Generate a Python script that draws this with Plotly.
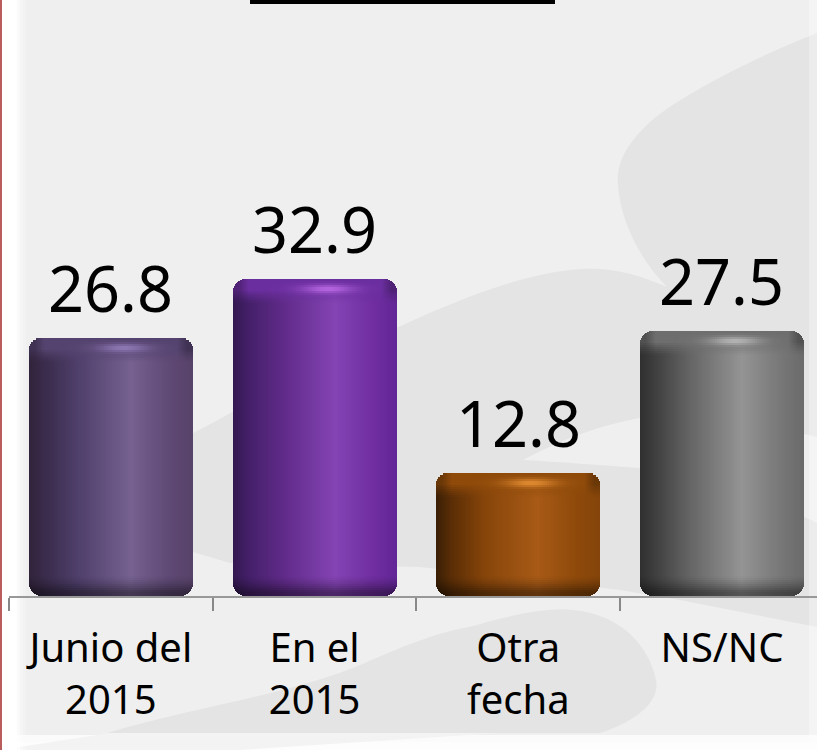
import plotly.graph_objects as go
import numpy as np

categories = ["Junio del<br>2015", "En el<br>2015", "Otra<br>fecha", "NS/NC"]
values = [26.8, 32.9, 12.8, 27.5]
value_labels = ["26.8", "32.9", "12.8", "27.5"]

stop_pos = [0.0, 0.10, 0.30, 0.62, 0.85, 1.0]
bar_stops = [
    ["#30233a", "#3a2c4c", "#4f3f6b", "#766190", "#5f4975", "#574269"],
    ["#331850", "#45206a", "#5f2a88", "#8444b4", "#702ea0", "#622696"],
    ["#3a1f05", "#5c2e06", "#87450a", "#a85a16", "#8f4a0a", "#84440a"],
    ["#2f2f2f", "#404040", "#646464", "#949494", "#787878", "#6a6a6a"],
]
cap_colors = ["#55436f", "#6b2e9f", "#8f4a0a", "#6e6e6e"]
glow_colors = ["#8f78b4", "#b565e0", "#e08a30", "#b4b4b4"]

W, H = 817, 750
ML, MB = 9, 154
BASE_PX = 596
CAT_PX = 203.7
BAR_PX = 164
PX_PER_UNIT = 9.63
RADIUS = 13
BG = "#efefef"
BLOB = "#e4e4e4"


def rgb(h):
    return np.array([int(h[i:i + 2], 16) for i in (1, 3, 5)], float)


def mix(a, b, w):
    return a * (1 - w) + b * w


def css(c):
    c = np.clip(c, 0, 255).round().astype(int)
    return f"rgb({c[0]},{c[1]},{c[2]})"


def column_edges():
    edges = list(range(0, RADIUS)) + list(range(RADIUS, BAR_PX - RADIUS, 2)) + list(range(BAR_PX - RADIUS, BAR_PX + 1))
    return sorted(set(edges))


fig = go.Figure()
for i, (cat, v) in enumerate(zip(categories, values)):
    stops = np.array([rgb(s) for s in bar_stops[i]])
    cap = rgb(cap_colors[i])
    glow = rgb(glow_colors[i])
    bar_h = v * PX_PER_UNIT
    left = round(ML + (i + 0.5) * CAT_PX - BAR_PX / 2)
    xs, ws, bases, ys, cols = [], [], [], [], []
    edges = column_edges()
    for e0, e1 in zip(edges[:-1], edges[1:]):
        cx = (e0 + e1) / 2
        t = cx / BAR_PX
        col = np.array([np.interp(t, stop_pos, stops[:, k]) for k in range(3)])
        d = min(cx, BAR_PX - cx)
        inset = 0.0
        if d < RADIUS:
            inset = RADIUS - np.sqrt(max(RADIUS ** 2 - (RADIUS - d) ** 2, 0))
        inset = round(inset)
        rows = []
        for r in range(inset, 22, 2):
            rows.append((r, r + 2))
        rows.append((22, bar_h - 26))
        top_lim = bar_h - inset
        for r in np.arange(bar_h - 26, top_lim, 2):
            rows.append((r, min(r + 2, top_lim)))
        for r0, r1 in rows:
            if r1 <= r0:
                continue
            mid = (r0 + r1) / 2
            dtop = bar_h - mid
            dbot = mid
            c = col.copy()
            if dtop < 26:
                w = np.clip((25 - dtop) / 14, 0, 1) ** 1.3
                edge_keep = np.clip(d / 16, 0.35, 1)
                c = mix(c, cap * (0.6 + 0.4 * edge_keep), w)
                g = np.exp(-((t - 0.58) / 0.16) ** 2) * np.exp(-((dtop - 10) / 4.5) ** 2)
                c = mix(c, glow, g)
            if dbot < 22:
                w = np.clip((21 - dbot) / 17, 0, 1) ** 1.5
                c = c * (1 - 0.42 * w)
            xs.append(i + (left + cx - ML - CAT_PX / 2 - i * CAT_PX) / CAT_PX)
            ws.append((e1 - e0) / CAT_PX)
            bases.append(r0 / PX_PER_UNIT)
            ys.append((r1 - r0) / PX_PER_UNIT)
            cols.append(css(c))
    fig.add_trace(go.Bar(x=xs, y=ys, base=bases, width=ws, name=cat.replace("<br>", " "),
                         marker=dict(color=cols, line=dict(width=0)), hoverinfo="skip", showlegend=False))


def fx(px):
    return (px - ML) / (W - ML)


def fy(py):
    return (BASE_PX - py) / BASE_PX


def path(points):
    out = []
    for p in points:
        if p[0] in "MLC":
            nums = p[1:]
            coords = [f"{fx(nums[k]):.5f},{fy(nums[k + 1]):.5f}" for k in range(0, len(nums), 2)]
            out.append(p[0] + " " + " ".join(coords))
        else:
            out.append(p[0])
    return " ".join(out)


def shape_path(points, color, opacity=1):
    return dict(type="path", xref="paper", yref="paper", path=path(points), fillcolor=color,
                opacity=opacity, line=dict(width=0), layer="below")


def rect(x0, y0, x1, y1, color, opacity=1):
    return dict(type="rect", xref="paper", yref="paper", x0=fx(x0), x1=fx(x1), y0=fy(y0), y1=fy(y1),
                fillcolor=color, opacity=opacity, line=dict(width=0), layer="below")


shapes = [
    rect(0, 0, W, H, BG),
    shape_path([
        ("M", 817, 33), ("C", 760, 55, 680, 95, 650, 122), ("C", 625, 145, 616, 165, 618, 185),
        ("C", 620, 220, 640, 260, 667, 287),
        ("C", 640, 275, 612, 267, 580, 269), ("C", 500, 275, 400, 325, 300, 375),
        ("C", 260, 395, 220, 420, 193, 433), ("L", 60, 500), ("L", 60, 530), ("L", 193, 552),
        ("L", 230, 563), ("L", 420, 567), ("L", 620, 590), ("L", 680, 600), ("L", 817, 627), ("Z",),
    ], BLOB),
    shape_path([
        ("M", 523, 460), ("C", 560, 440, 600, 425, 640, 418), ("C", 700, 412, 770, 425, 817, 437),
        ("L", 817, 523), ("C", 770, 500, 700, 475, 640, 468), ("C", 600, 465, 560, 462, 523, 460), ("Z",),
    ], BG),
    shape_path([
        ("M", 107, 733), ("C", 200, 705, 290, 695, 365, 663), ("C", 410, 643, 440, 632, 469, 627),
        ("C", 510, 615, 550, 607, 573, 610), ("C", 625, 615, 650, 650, 656, 680),
        ("C", 660, 700, 640, 720, 600, 733), ("Z",),
    ], BLOB),
    rect(0, 735, W, H, "#ffffff", 0.75),
    rect(0, 742, W, H, "#ffffff", 0.6),
    shape_path([("M", 0, 750), ("L", 110, 733), ("L", 500, 733), ("L", 240, 750), ("Z",)], "#f3f3f3"),
    rect(809, 0, W, H, "#ffffff", 0.3),
    rect(2, 0, 17, H, "#ffffff"),
    rect(17, 0, 20, H, "#ffffff", 0.7),
    rect(20, 0, 23, H, "#ffffff", 0.4),
    rect(23, 0, 26, H, "#ffffff", 0.2),
    rect(0, 0, 2, H, "#b85c5c"),
    rect(250, 0, 555, 4, "#000000"),
]

annotations = [
    dict(x=i, y=v, xref="x", yref="y", text=t, showarrow=False, yanchor="bottom", yshift=6,
         font=dict(family="Noto Sans", size=63, color="#000000"))
    for i, (v, t) in enumerate(zip(values, value_labels))
]

fig.update_layout(
    width=W, height=H, autosize=False,
    margin=dict(l=ML, r=0, t=0, b=MB, pad=0),
    paper_bgcolor=BG, plot_bgcolor="rgba(0,0,0,0)",
    barmode="overlay", bargap=0, shapes=shapes, annotations=annotations, showlegend=False,
    xaxis=dict(
        range=[-0.5, -0.5 + (W - ML) / CAT_PX], tickmode="array", tickvals=list(range(4)), ticktext=categories,
        ticks="", showgrid=False, zeroline=False, showline=True, linecolor="#989898", linewidth=2,
        tickfont=dict(family="Noto Sans", size=40, color="#000000"), ticklabelstandoff=16,
        minor=dict(tickmode="array", tickvals=[-0.5, 0.5, 1.5, 2.5], ticks="outside", ticklen=13, tickwidth=1.5,
                   tickcolor="#888888", showgrid=False),
        fixedrange=True,
    ),
    yaxis=dict(range=[0, BASE_PX / PX_PER_UNIT], visible=False, fixedrange=True),
)
fig.write_html("out.html", config={"displayModeBar": False},
               post_script="document.body.style.margin='0';document.body.style.overflow='hidden';")
